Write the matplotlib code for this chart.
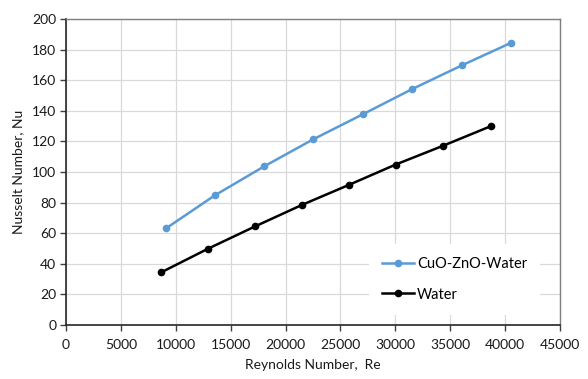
import matplotlib
matplotlib.use("Agg")
import matplotlib.pyplot as plt

re_cuo = [9100, 13550, 18030, 22530, 27060, 31560, 36090, 40530]
nu_cuo = [63.1, 84.7, 103.6, 121.4, 137.8, 154.3, 169.8, 184.4]
re_water = [8670, 12920, 17210, 21530, 25780, 30040, 34330, 38680]
nu_water = [34.4, 49.8, 64.4, 78.6, 91.6, 104.9, 117.1, 129.9]

xticks = list(range(0, 45001, 5000))
yticks = list(range(0, 201, 20))

plt.rcParams['font.family'] = ['Lato', 'DejaVu Sans']

fig = plt.figure(figsize=(5.88, 3.79), dpi=100)
ax = fig.add_axes([66/588, 1 - 325/379, (560-66)/588, (325-19)/379])

ax.plot(re_cuo, nu_cuo, color='#5B9BD5', lw=1.8, marker='o', ms=4.5, label='CuO-ZnO-Water', zorder=3)
ax.plot(re_water, nu_water, color='#000000', lw=1.8, marker='o', ms=4.5, label='Water', zorder=3)

ax.set_xlim(0, 45000)
ax.set_ylim(0, 200)
ax.set_xticks(xticks)
ax.set_yticks(yticks)
ax.grid(True, color='#d9d9d9', lw=0.9)
ax.set_axisbelow(True)
for s in ['top', 'right']:
    ax.spines[s].set_color('#7f7f7f')
    ax.spines[s].set_linewidth(1.0)
for s in ['left', 'bottom']:
    ax.spines[s].set_color('#262626')
    ax.spines[s].set_linewidth(1.2)
ax.tick_params(axis='both', labelsize=10, length=4, width=1, color='#404040', labelcolor='#1a1a1a', pad=3)
ax.tick_params(axis='x', pad=6)
ax.tick_params(top=False, right=False)

ax.set_xlabel('Reynolds Number,  Re', fontsize=10, color='#1a1a1a', labelpad=6)
ax.set_ylabel('Nusselt Number, Nu', fontsize=10, color='#1a1a1a', labelpad=6)

leg = ax.legend(loc='lower right', bbox_to_anchor=(0.975, 0.01), frameon=True, fancybox=False,
                fontsize=10.5, handlelength=2.2, handletextpad=0.2, labelspacing=1.1,
                borderpad=0.9, edgecolor='none', framealpha=1)

fig.savefig('out.png', dpi=100)
